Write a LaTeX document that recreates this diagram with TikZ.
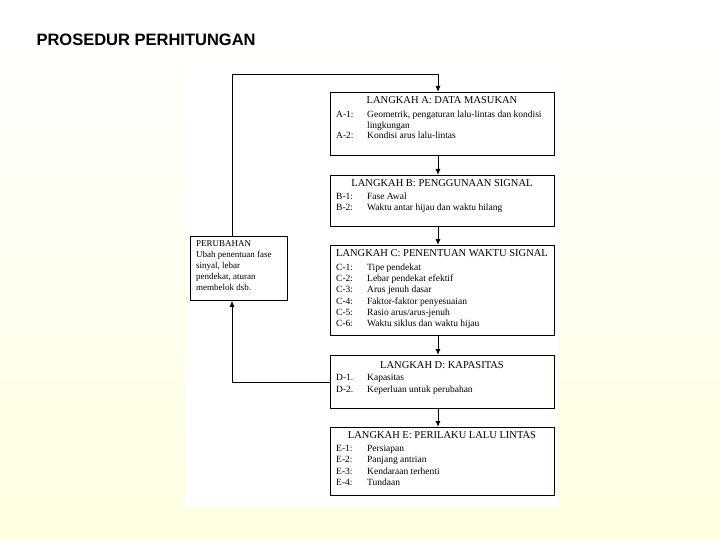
\documentclass[tikz,border=0pt]{standalone}
\usepackage{fontspec}
\setmainfont{Liberation Serif}
\newfontfamily\titlefont{Liberation Sans}
\usetikzlibrary{arrows.meta}
\begin{document}
\begin{tikzpicture}[x=1pt,y=-1pt,
 box/.style={draw,line width=0.8pt,anchor=north west,inner sep=0pt},
 arr/.style={line width=1pt,-{Latex[length=6pt,width=5pt]}},
 txt/.style={anchor=north west,font=\fontsize{9.5}{10.5}\selectfont,inner sep=0pt,align=left},
 hd/.style={anchor=north,font=\fontsize{10.5}{12}\selectfont,inner sep=0pt}]
\shade[top color=white,bottom color=yellow!12] (0,0) rectangle (720,540);
\useasboundingbox (0,0) rectangle (720,540);
\fill[white] (185,65) rectangle (558,508);
\node[anchor=west,font=\titlefont\bfseries\fontsize{16.5}{19}\selectfont] (title) at (33,40) {PROSEDUR PERHITUNGAN};
% boxes
\node[box,minimum width=224pt,minimum height=63pt] (A) at (330,92) {};
\node[box,minimum width=224pt,minimum height=51pt] (B) at (330,175) {};
\node[box,minimum width=224pt,minimum height=90pt] (C) at (330,245) {};
\node[box,minimum width=224pt,minimum height=53pt] (D) at (330,355) {};
\node[box,minimum width=224pt,minimum height=68pt] (E) at (330,427) {};
\node[box,minimum width=97pt,minimum height=64pt] (P) at (190,236) {};
% texts
\node[hd] (At) at (442,96) {LANGKAH A: DATA MASUKAN};
\node[txt] (Aa) at (336,110) {\begin{tabular}{@{}p{31pt}@{}l@{}}A-1: & Geometrik, pengaturan lalu-lintas dan kondisi\\ & lingkungan\\A-2: & Kondisi arus lalu-lintas\end{tabular}};
\node[hd] (Bt) at (442,179) {LANGKAH B: PENGGUNAAN SIGNAL};
\node[txt] (Ba) at (336,192) {\begin{tabular}{@{}p{31pt}@{}l@{}}B-1: & Fase Awal\\B-2: & Waktu antar hijau dan waktu hilang\end{tabular}};
\node[hd] (Ct) at (442,249) {LANGKAH C: PENENTUAN WAKTU SIGNAL};
\node[txt,font=\fontsize{9.5}{11.3}\selectfont] (Ca) at (336,262) {\begin{tabular}{@{}p{31pt}@{}l@{}}C-1: & Tipe pendekat\\C-2: & Lebar pendekat efektif\\C-3: & Arus jenuh dasar\\C-4: & Faktor-faktor penyesuaian\\C-5: & Rasio arus/arus-jenuh\\C-6: & Waktu siklus dan waktu hijau\end{tabular}};
\node[hd] (Dt) at (442,361) {LANGKAH D: KAPASITAS};
\node[txt,font=\fontsize{9.5}{12}\selectfont] (Da) at (336,372) {\begin{tabular}{@{}p{31pt}@{}l@{}}D-1. & Kapasitas\\D-2. & Keperluan untuk perubahan\end{tabular}};
\node[hd] (Et) at (442,431) {LANGKAH E: PERILAKU LALU LINTAS};
\node[txt,font=\fontsize{9.5}{11.5}\selectfont] (Ea) at (336,443) {\begin{tabular}{@{}p{31pt}@{}l@{}}E-1: & Persiapan\\E-2: & Panjang antrian\\E-3: & Kendaraan terhenti\\E-4: & Tundaan\end{tabular}};
\node[txt,font=\fontsize{9}{11}\selectfont] (Pt) at (196,240) {PERUBAHAN\\Ubah penentuan fase\\sinyal, lebar\\pendekat, aturan\\membelok dsb.};
% connectors
\coordinate (c1) at (232,75);
\coordinate (c2) at (438,75);
\coordinate (c3) at (232,382);
\draw[arr] (P.north west -| c1) -- (c1) -- (c2) -- (c2 |- A.north);
\draw[arr] (A.south -| c2) -- (B.north -| c2);
\draw[arr] (B.south -| c2) -- (C.north -| c2);
\draw[arr] (C.south -| c2) -- (D.north -| c2);
\draw[arr] (D.south -| c2) -- (E.north -| c2);
\draw[arr] (D.west |- c3) -- (c3) -- (c3 |- P.south);
\end{tikzpicture}
\end{document}
